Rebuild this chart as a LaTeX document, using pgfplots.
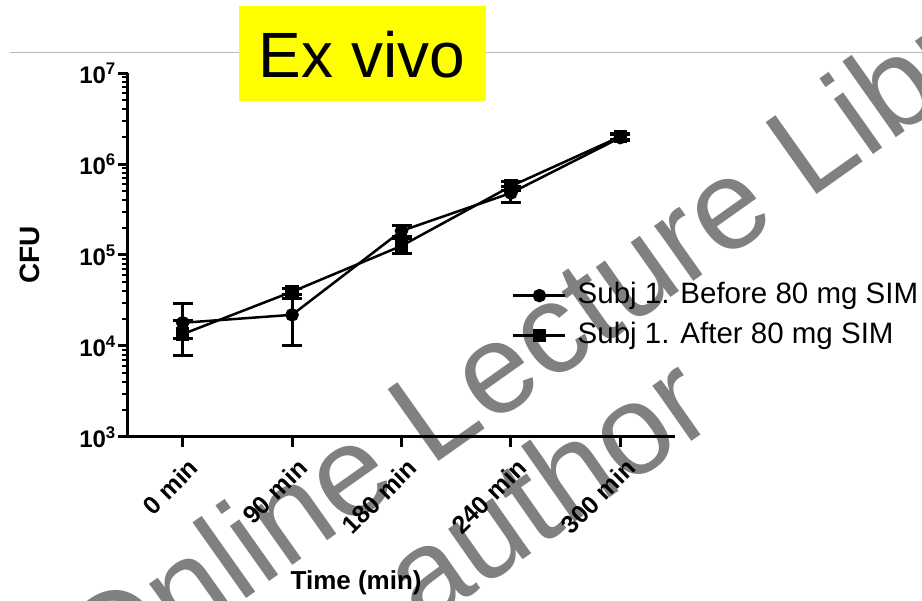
\documentclass[border=0pt]{standalone}
\usepackage{fontspec}
\setmainfont{Liberation Sans}
\usepackage{pgfplots}
\pgfplotsset{compat=1.18}
\definecolor{wm}{RGB}{128,128,128}
\definecolor{ttl}{RGB}{255,255,0}
\definecolor{rule}{RGB}{185,185,185}
\begin{document}
\begin{tikzpicture}[x=1pt,y=1pt]
\useasboundingbox (0,0) rectangle (922,-601);
\clip (0,0) rectangle (922,-601);
\fill[white] (0,0) rectangle (922,-601);
\draw[rule, line width=1pt] (10,-53) -- (922,-53);
\node[anchor=base west, rotate=35.3, text=wm, font=\fontsize{128}{128}\selectfont, inner sep=0pt] at (100,-702) {Online Lecture Library};
\node[anchor=base west, rotate=35, text=wm, font=\fontsize{128}{128}\selectfont, inner sep=0pt] at (422,-630) {author};
\begin{axis}[
  scale only axis, width=547pt, height=364pt,
  at={(128pt,-437pt)}, anchor=south west,
  xmin=-0.5, xmax=4.5, ymode=log, ymin=1e3, ymax=1e7,
  axis x line*=bottom, axis y line*=left,
  axis line style={line width=3pt, -},
  xtick={0,1,2,3,4},
  xticklabels={\textbf{0 min},\textbf{90 min},\textbf{180 min},\textbf{240 min},\textbf{300 min}},
  ytick={1e3,1e4,1e5,1e6,1e7},
  yticklabels={\textbf{10\textsuperscript{3}},\textbf{10\textsuperscript{4}},\textbf{10\textsuperscript{5}},\textbf{10\textsuperscript{6}},\textbf{10\textsuperscript{7}}},
  tick align=outside, major tick length=10pt, minor tick length=6pt,
  major tick style={line width=3pt, black},
  minor tick style={line width=2pt, black},
  xticklabel style={rotate=45, anchor=north east, font=\fontsize{25}{25}\selectfont, inner sep=1pt, yshift=-9pt, xshift=-3pt},
  yticklabel style={font=\fontsize{24}{24}\selectfont, inner sep=2pt},
  xlabel={\textbf{Time (min)}},
  xlabel style={at={(axis description cs:0.417,-0.401)}, anchor=center, font=\fontsize{26}{26}\selectfont},
  ylabel={\textbf{CFU}},
  ylabel style={at={(axis description cs:-0.179,0.5)}, anchor=center, font=\fontsize{28}{28}\selectfont},
  legend style={at={(axis description cs:0.702,0.426)}, anchor=north west, draw=none, fill=none,
    font=\fontsize{29.5}{29.5}\selectfont, inner sep=0pt, row sep=13pt, column sep=11pt,
    nodes={inner sep=0pt, text height=21pt, text depth=6pt}},
  legend cell align=left,
  legend image code/.code={\draw[mark repeat=2,mark phase=2,#1] plot coordinates {(0pt,0pt) (26pt,0pt) (52pt,0pt)};},
  clip=false,
]
\addplot[black, line width=2.5pt, mark=*, mark size=5.5pt, mark options={solid, fill=black}]
  coordinates {(0,1.8e4) (1,2.2e4) (2,1.84e5) (3,4.8e5) (4,1.95e6)};
\addlegendentry{Subj 1. Before 80 mg SIM}
\addplot[black, line width=2.5pt, mark=square*, mark size=5.5pt, mark options={solid, fill=black}]
  coordinates {(0,1.35e4) (1,3.95e4) (2,1.26e5) (3,5.7e5) (4,2.0e6)};
\addlegendentry{Subj 1. After 80 mg SIM}
% error bars (low, high) drawn as capped vertical segments
\addplot[black, line width=3pt, mark=-, mark size=10pt, mark options={solid, line width=3pt}, forget plot] coordinates {(0,1.2e4) (0,2.9e4)};
\addplot[black, line width=3pt, mark=-, mark size=10pt, mark options={solid, line width=3pt}, forget plot] coordinates {(1,1.0e4) (1,3.3e4)};
\addplot[black, line width=3pt, mark=-, mark size=10pt, mark options={solid, line width=3pt}, forget plot] coordinates {(2,1.6e5) (2,2.1e5)};
\addplot[black, line width=3pt, mark=-, mark size=10pt, mark options={solid, line width=3pt}, forget plot] coordinates {(3,3.8e5) (3,5.6e5)};
\addplot[black, line width=3pt, mark=-, mark size=10pt, mark options={solid, line width=3pt}, forget plot] coordinates {(4,1.8e6) (4,2.1e6)};
\addplot[black, line width=3pt, mark=-, mark size=10pt, mark options={solid, line width=3pt}, forget plot] coordinates {(0,7.8e3) (0,1.9e4)};
\addplot[black, line width=3pt, mark=-, mark size=10pt, mark options={solid, line width=3pt}, forget plot] coordinates {(1,3.65e4) (1,4.25e4)};
\addplot[black, line width=3pt, mark=-, mark size=10pt, mark options={solid, line width=3pt}, forget plot] coordinates {(2,1.05e5) (2,1.5e5)};
\addplot[black, line width=3pt, mark=-, mark size=10pt, mark options={solid, line width=3pt}, forget plot] coordinates {(3,5.1e5) (3,6.4e5)};
\addplot[black, line width=3pt, mark=-, mark size=10pt, mark options={solid, line width=3pt}, forget plot] coordinates {(4,1.85e6) (4,2.15e6)};
\end{axis}
\fill[ttl] (239,-6) rectangle (486,-101);
\node[anchor=base, font=\fontsize{64}{64}\selectfont, inner sep=0pt] at (362,-78) {Ex vivo};
\end{tikzpicture}
\end{document}
